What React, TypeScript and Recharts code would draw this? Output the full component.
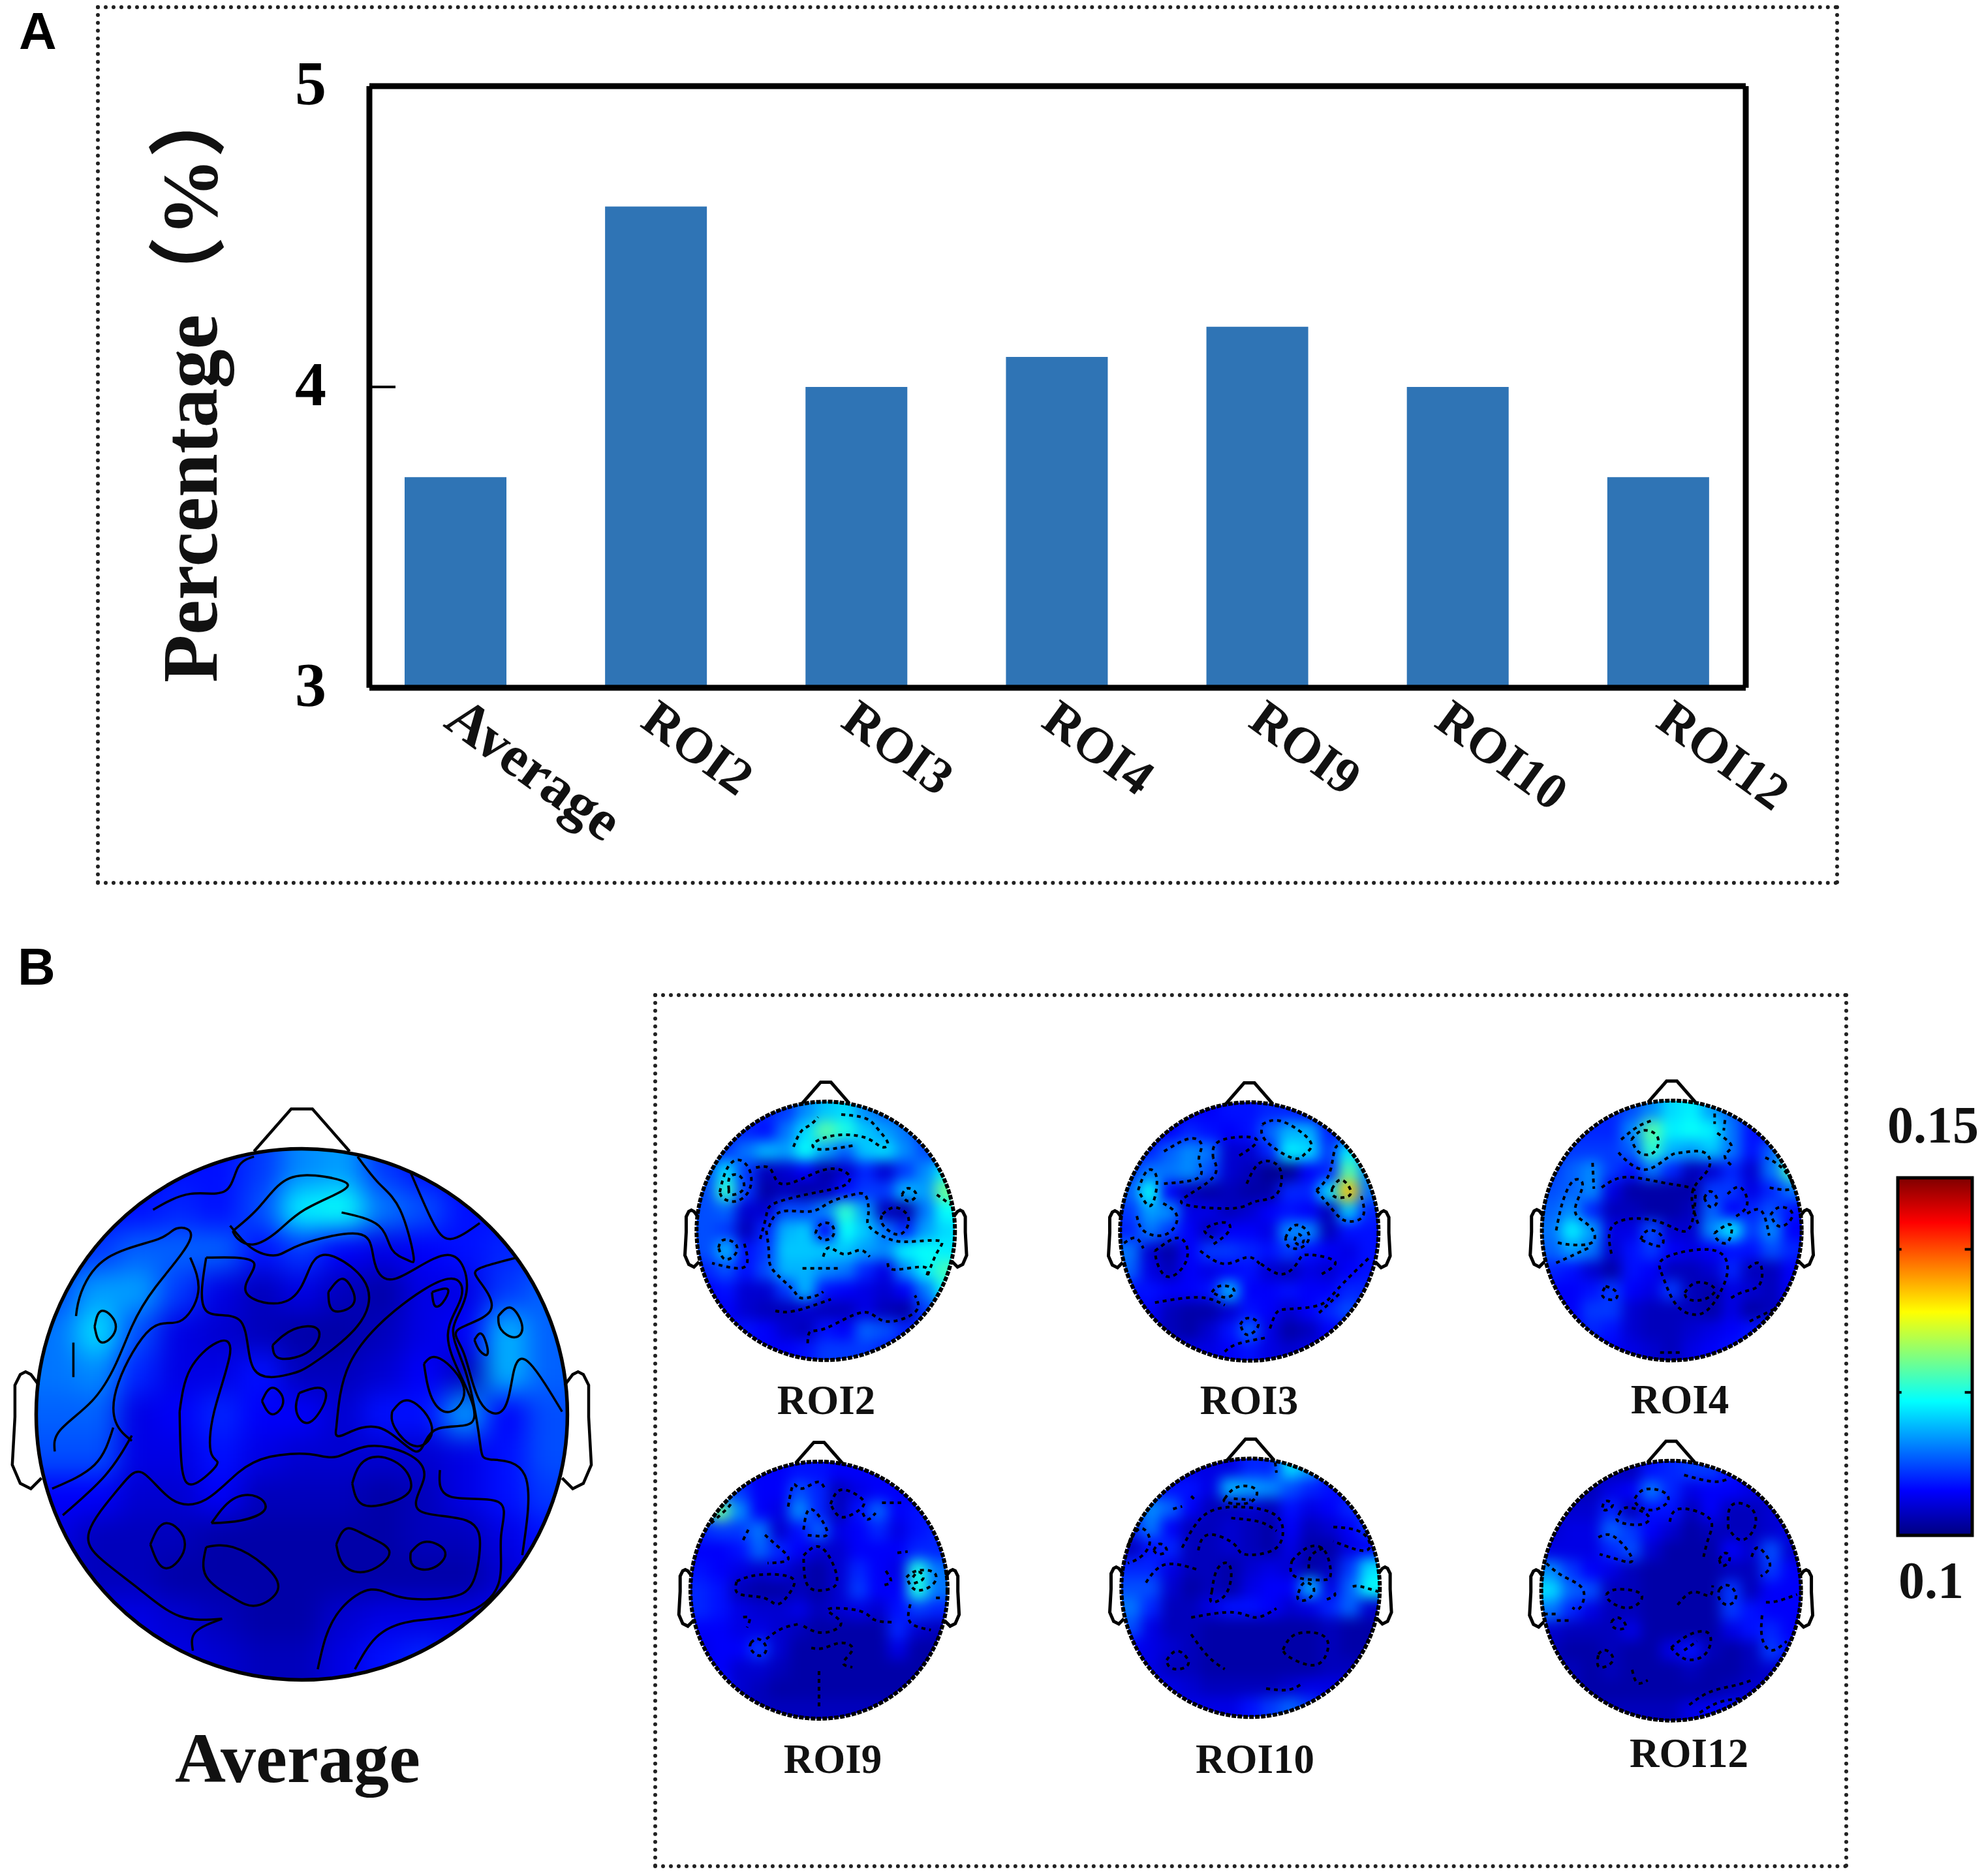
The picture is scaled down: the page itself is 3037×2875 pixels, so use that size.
import {
  Area,
  AreaChart,
  Bar,
  BarChart,
  ComposedChart,
  Label,
  Line,
  ReferenceArea,
  ReferenceDot,
  ReferenceLine,
  Scatter,
  ScatterChart,
  XAxis,
  YAxis,
} from 'recharts';

const categories = ['Average', 'ROI2', 'ROI3', 'ROI4', 'ROI9', 'ROI10', 'ROI12'];
const percentages = [3.7, 4.6, 4.0, 4.1, 4.2, 4.0, 3.7];
const percentTicks = [3, 4, 5];

const colorbarRange = [0.1, 0.15];
const colorbarTicks = [0.12, 0.14];
const jetStops: Array<[number, number, number, number]> = [
  [0, 0, 0, 127],
  [0.125, 0, 0, 255],
  [0.375, 0, 255, 255],
  [0.625, 255, 255, 0],
  [0.875, 255, 0, 0],
  [1, 127, 0, 0],
];

// Head outline, in scalp units (radius = 100, nose up)
const noseLine = [[-18, 99], [-4, 115], [4, 115], [18, 99]];
const leftEar = [[-99, 11], [-102, 15], [-104, 16], [-106, 15], [-108, 11], [-108, -1], [-109, -19], [-106, -26], [-102, -28], [-98, -24]];
const rightEar = [[99, 11], [102, 15], [104, 16], [106, 15], [108, 11], [108, -1], [109, -19], [106, -26], [102, -28], [98, -24]];

// Power above 0.1, in thousandths, on a 13 x 13 scalp grid (rows front to back)
const averageHeat = [
  [7, 7, 7, 7, 7, 9, 13, 14, 9, 7, 6, 6, 6],
  [7, 7, 7, 8, 7, 10, 18, 19, 12, 10, 7, 7, 7],
  [8, 9, 11, 11, 11, 7, 9, 6, 5, 6, 7, 8, 9],
  [10, 14, 14, 9, 5, 3, 5, 3, 2, 5, 5, 9, 11],
  [12, 17, 10, 5, 4, 3, 2, 2, 3, 5, 6, 15, 11],
  [12, 13, 8, 5, 5, 7, 3, 3, 4, 6, 3, 15, 11],
  [11, 11, 5, 6, 8, 6, 6, 4, 7, 7, 14, 6, 10],
  [10, 10, 5, 5, 7, 5, 4, 4, 4, 4, 5, 7, 10],
  [6, 6, 4, 4, 6, 3, 3, 3, 2, 3, 5, 7, 9],
  [5, 3, 3, 3, 2, 2, 2, 2, 2, 3, 3, 5, 7],
  [4, 3, 3, 2, 2, 2, 2, 2, 2, 2, 2, 4, 6],
  [5, 5, 5, 4, 3, 2, 2, 4, 5, 5, 5, 6, 6],
  [5, 5, 5, 5, 4, 3, 3, 5, 7, 8, 7, 6, 6],
];
const roi2Heat = [
  [8, 8, 8, 8, 9, 13, 16, 17, 13, 11, 10, 8, 8],
  [8, 8, 8, 7, 12, 17, 23, 20, 16, 14, 12, 9, 8],
  [8, 9, 12, 15, 14, 19, 14, 11, 16, 17, 13, 10, 9],
  [10, 17, 9, 3, 4, 6, 2, 4, 8, 4, 9, 13, 18],
  [10, 21, 9, 2, 3, 2, 3, 7, 9, 9, 15, 14, 24],
  [10, 11, 4, 4, 10, 10, 13, 21, 14, 3, 2, 12, 19],
  [10, 9, 3, 8, 15, 16, 6, 19, 16, 12, 8, 14, 17],
  [10, 15, 7, 9, 16, 16, 16, 16, 14, 13, 18, 19, 18],
  [8, 10, 7, 10, 15, 15, 13, 12, 8, 5, 13, 18, 22],
  [6, 7, 4, 4, 9, 15, 7, 6, 5, 4, 6, 12, 19],
  [5, 6, 4, 3, 3, 4, 3, 3, 5, 3, 2, 9, 13],
  [5, 6, 7, 6, 4, 3, 7, 6, 11, 10, 8, 8, 8],
  [5, 5, 6, 6, 6, 7, 9, 9, 9, 8, 7, 6, 6],
];
const roi3Heat = [
  [6, 6, 6, 6, 6, 7, 7, 8, 8, 7, 6, 6, 6],
  [6, 6, 6, 8, 7, 6, 7, 11, 15, 15, 8, 7, 7],
  [7, 8, 11, 13, 12, 4, 4, 8, 18, 17, 9, 18, 14],
  [9, 12, 12, 13, 10, 4, 3, 1, 1, 6, 8, 23, 13],
  [11, 19, 6, 3, 2, 3, 2, 2, 8, 8, 17, 34, 12],
  [9, 14, 13, 5, 5, 3, 4, 6, 7, 6, 3, 16, 8],
  [8, 12, 9, 6, 3, 6, 6, 5, 13, 13, 3, 7, 7],
  [12, 4, 2, 6, 9, 9, 8, 7, 9, 7, 6, 5, 7],
  [11, 5, 3, 6, 5, 6, 7, 4, 3, 5, 4, 6, 7],
  [7, 7, 6, 6, 7, 15, 6, 6, 7, 6, 6, 8, 8],
  [6, 6, 3, 2, 2, 4, 7, 6, 4, 6, 8, 10, 8],
  [6, 5, 3, 2, 4, 7, 11, 5, 2, 3, 6, 7, 7],
  [5, 5, 5, 5, 5, 6, 7, 5, 4, 5, 5, 6, 6],
];
const roi4Heat = [
  [8, 8, 8, 8, 10, 13, 17, 18, 14, 11, 8, 7, 7],
  [7, 8, 8, 8, 13, 23, 18, 19, 18, 12, 7, 6, 8],
  [8, 9, 9, 9, 11, 21, 15, 14, 16, 12, 7, 11, 21],
  [9, 11, 13, 9, 7, 12, 8, 3, 4, 8, 4, 12, 22],
  [10, 11, 13, 5, 2, 2, 2, 2, 9, 9, 5, 8, 12],
  [11, 13, 8, 3, 3, 2, 2, 3, 11, 6, 8, 10, 7],
  [12, 18, 14, 5, 5, 10, 4, 4, 13, 18, 9, 13, 6],
  [11, 14, 12, 4, 7, 9, 6, 5, 6, 7, 7, 10, 8],
  [8, 7, 4, 2, 7, 6, 3, 3, 4, 8, 3, 3, 6],
  [6, 6, 7, 9, 6, 5, 9, 3, 2, 5, 4, 3, 6],
  [5, 6, 9, 9, 4, 3, 3, 3, 2, 5, 2, 3, 5],
  [5, 6, 8, 7, 4, 3, 3, 4, 5, 6, 7, 8, 8],
  [5, 5, 6, 6, 5, 4, 3, 5, 6, 7, 8, 8, 7],
];
const roi9Heat = [
  [6, 6, 6, 6, 6, 7, 7, 6, 6, 6, 6, 6, 6],
  [8, 10, 9, 6, 6, 10, 8, 3, 5, 6, 6, 5, 6],
  [12, 24, 13, 6, 5, 13, 8, 3, 7, 11, 6, 7, 7],
  [8, 9, 9, 12, 4, 7, 11, 5, 6, 8, 5, 7, 8],
  [6, 6, 7, 11, 8, 6, 4, 4, 6, 6, 6, 8, 8],
  [7, 6, 5, 4, 5, 3, 2, 4, 8, 6, 5, 20, 12],
  [8, 7, 3, 2, 2, 3, 2, 4, 9, 6, 6, 20, 12],
  [8, 7, 5, 4, 4, 5, 3, 4, 5, 4, 7, 9, 8],
  [6, 6, 5, 5, 4, 3, 2, 2, 2, 2, 8, 4, 3],
  [5, 6, 6, 9, 4, 2, 2, 2, 2, 2, 5, 2, 2],
  [5, 6, 4, 4, 3, 2, 2, 2, 2, 2, 2, 2, 2],
  [6, 7, 4, 3, 2, 2, 2, 2, 2, 2, 2, 2, 2],
  [6, 6, 4, 3, 3, 3, 3, 3, 3, 3, 3, 3, 3],
];
const roi10Heat = [
  [6, 6, 5, 5, 5, 5, 8, 8, 17, 14, 8, 6, 6],
  [7, 7, 7, 7, 5, 15, 14, 13, 10, 8, 7, 6, 6],
  [9, 13, 11, 6, 3, 3, 4, 3, 7, 5, 6, 8, 8],
  [8, 12, 6, 3, 3, 4, 3, 2, 6, 3, 4, 6, 9],
  [3, 7, 8, 3, 3, 4, 3, 2, 5, 2, 2, 5, 6],
  [8, 8, 5, 3, 3, 2, 4, 5, 4, 2, 3, 9, 17],
  [10, 10, 4, 2, 3, 2, 5, 6, 6, 15, 5, 11, 19],
  [12, 8, 3, 3, 5, 7, 7, 6, 4, 5, 8, 11, 4],
  [10, 5, 3, 3, 2, 2, 2, 2, 2, 2, 3, 2, 2],
  [6, 5, 4, 3, 2, 2, 2, 2, 2, 2, 3, 2, 2],
  [5, 5, 3, 3, 2, 2, 2, 2, 2, 2, 3, 3, 3],
  [5, 5, 5, 4, 3, 3, 3, 3, 4, 5, 5, 5, 5],
  [5, 5, 5, 5, 5, 5, 7, 9, 11, 9, 7, 5, 5],
];
const roi12Heat = [
  [3, 3, 3, 3, 3, 7, 8, 9, 9, 7, 5, 5, 5],
  [3, 3, 3, 5, 6, 12, 8, 5, 6, 6, 5, 4, 4],
  [4, 4, 4, 8, 3, 7, 7, 3, 6, 3, 3, 4, 5],
  [4, 5, 5, 11, 9, 6, 4, 2, 3, 3, 3, 4, 5],
  [5, 5, 5, 8, 10, 4, 2, 2, 2, 6, 4, 10, 4],
  [13, 9, 6, 5, 3, 2, 2, 2, 2, 3, 3, 9, 6],
  [17, 11, 10, 3, 3, 2, 2, 2, 2, 9, 3, 6, 6],
  [12, 8, 5, 3, 3, 2, 2, 2, 2, 9, 7, 6, 6],
  [4, 3, 3, 3, 5, 2, 2, 2, 2, 5, 7, 8, 6],
  [3, 2, 2, 3, 2, 2, 5, 7, 3, 2, 3, 9, 7],
  [3, 3, 2, 3, 2, 2, 2, 3, 2, 2, 3, 4, 3],
  [3, 3, 2, 2, 2, 2, 2, 2, 2, 3, 4, 4, 4],
  [3, 3, 3, 3, 3, 3, 3, 5, 6, 7, 6, 5, 5],
];

// Iso-lines, as [x, y] scalp positions
const averageContours = [
  [[-30, -77], [-46, -76], [-61, -66], [-75, -55], [-80, -44], [-69, -28], [-60, -22], [-49, -32], [-36, -32], [-24, -22], [-12, -16], [3, -15], [13, -16], [25, -12], [40, -15], [46, -24], [44, -36], [62, -40], [67, -51], [64, -64], [55, -69], [38, -69], [26, -66], [15, -73], [9, -84], [6, -96]],
  [[-30, -77], [-40, -82], [-41, -89]],
  [[-57, -49], [-51, -41], [-44, -49], [-51, -58], [-57, -49]],
  [[-36, -50], [-36, -61], [-26, -69], [-17, -72], [-9, -66], [-14, -57], [-26, -50], [-36, -50]],
  [[19, -26], [22, -19], [29, -16], [38, -20], [41, -28], [34, -33], [23, -34], [19, -26]],
  [[13, -49], [17, -43], [25, -46], [33, -52], [25, -59], [16, -57], [13, -49]],
  [[41, -52], [47, -48], [54, -52], [49, -58], [42, -57], [41, -52]],
  [[-34, -41], [-26, -32], [-17, -31], [-14, -36], [-23, -40], [-34, -41]],
  [[-26, 69], [-17, 77], [-9, 86], [1, 90], [15, 88], [15, 84], [1, 77], [-9, 69], [-18, 64], [-24, 66], [-26, 69]],
  [[-56, 77], [-42, 83], [-29, 84], [-24, 93], [-18, 97]],
  [[21, 97], [29, 87], [37, 77], [42, 60], [40, 58], [34, 62], [29, 71], [15, 76]],
  [[-27, 71], [-18, 62], [-9, 60], [0, 64], [21, 68], [27, 59], [35, 51], [55, 60], [62, 46], [57, 32], [62, 15], [67, -10], [71, -17], [84, -23], [83, -53]],
  [[-42, 59], [-39, 46], [-46, 35], [-57, 32], [-69, 12], [-70, -3], [-64, -10]],
  [[-36, 59], [-18, 57], [-21, 46], [-5, 43], [4, 57], [13, 59], [23, 51], [25, 41], [18, 30], [4, 19], [-5, 15], [-18, 17], [-23, 35], [-36, 39], [-36, 59]],
  [[-46, 1], [-42, 17], [-32, 27], [-27, 23], [-33, 1], [-34, -15], [-32, -19], [-40, -26], [-45, -21], [-46, 1]],
  [[13, -5], [18, 19], [35, 39], [55, 51], [60, 44], [55, 30], [61, 12], [64, -3], [50, -6], [43, -14], [29, -5], [15, -8], [13, -5]],
  [[46, 19], [52, 21], [61, 10], [56, 1], [49, 6], [46, 19]],
  [[34, 1], [41, 5], [49, -5], [43, -12], [35, -5], [34, 1]],
  [[81, 59], [67, 55], [67, 50], [71, 39], [59, 32], [61, 23], [67, 5], [76, 2], [80, 17], [86, 19], [98, 1]],
  [[-85, 37], [-83, 46], [-73, 59], [-54, 66], [-47, 70], [-42, 66], [-55, 48], [-64, 33], [-70, 19], [-79, 5], [-91, -6], [-93, -14]],
  [[-86, 27], [-86, 14]],
  [[-78, 33], [-75, 39], [-70, 33], [-75, 27], [-78, 33]],
  [[-94, -28], [-78, -19], [-71, -5]],
  [[-90, -38], [-74, -23], [-64, -8]],
  [[20, -96], [28, -84], [41, -78], [61, -75], [74, -64], [75, -46], [74, -33], [56, -31], [52, -21]],
  [[41, 91], [49, 73], [56, 66], [67, 72]],
  [[-11, 26], [-3, 32], [6, 32], [3, 24], [-8, 21], [-11, 26]],
  [[10, 46], [15, 51], [19, 47], [19, 41], [12, 39], [10, 46]],
  [[-1, 8], [6, 10], [9, 6], [3, -3], [-2, 1], [-1, 8]],
  [[74, 37], [79, 40], [83, 33], [80, 29], [75, 32], [74, 37]],
  [[65, 28], [68, 30], [70, 23], [67, 24], [65, 28]],
  [[-15, 5], [-11, 10], [-7, 5], [-11, 0], [-15, 5]],
  [[49, 46], [55, 47], [53, 42], [50, 41], [49, 46]],
];
const roi2Contours = [
  [[-82, 30], [-77, 47], [-68, 55], [-59, 47], [-59, 32], [-69, 23], [-79, 25], [-82, 30]],
  [[-75, 32], [-74, 42], [-66, 42], [-64, 32], [-73, 28], [-75, 32]],
  [[-25, 65], [-19, 77], [-12, 82], [-6, 88]],
  [[12, 90], [31, 87], [41, 78], [48, 68], [43, 65], [31, 72], [8, 74], [-9, 68], [-4, 63], [21, 66]],
  [[-54, 49], [-43, 48], [-36, 37], [-19, 40], [3, 48], [18, 43], [14, 35], [-6, 30], [-38, 22], [-46, 12], [-51, -7]],
  [[-44, 3], [-34, 15], [-12, 15], [3, 22], [21, 28], [31, 27], [33, 13], [34, 3], [51, -7], [71, -8], [89, -8], [86, -17], [78, -37]],
  [[-46, 0], [-44, -17], [-41, -30], [-26, -45], [-19, -52], [-7, -50], [-2, -47]],
  [[-8, -2], [-4, 5], [4, 5], [6, -3], [-1, -7], [-8, -2]],
  [[-2, -20], [3, -13], [14, -18], [26, -15], [34, -20]],
  [[-18, -29], [10, -29]],
  [[44, 13], [54, 18], [64, 10], [59, -2], [49, 0], [43, 7], [44, 13]],
  [[48, -25], [54, -30], [76, -28], [77, -37]],
  [[-83, -13], [-79, -7], [-70, -10], [-70, -18], [-78, -22], [-83, -13]],
  [[-63, -10], [-63, -28], [-88, -25]],
  [[59, 28], [64, 33], [70, 28], [64, 23], [59, 28]],
  [[-14, -87], [-12, -78], [1, -75], [29, -63], [46, -70], [69, -63], [69, -50]],
  [[-39, -62], [-24, -62], [4, -53]],
  [[86, 28], [97, 20]],
];
const roi3Contours = [
  [[-86, 32], [-79, 47], [-72, 43], [-73, 27], [-78, 20], [-86, 32]],
  [[-87, 12], [-81, 0], [-64, -2], [-56, 12], [-69, 23]],
  [[-66, 62], [-46, 72], [-37, 67], [-39, 57], [-37, 47], [-43, 40], [-66, 37]],
  [[-28, 57], [-23, 70], [1, 73], [4, 67], [-9, 58]],
  [[-2, 37], [8, 53], [21, 52], [25, 40], [19, 27], [4, 23], [-12, 18], [-46, 20], [-49, 27], [-28, 42], [-28, 57]],
  [[10, 83], [26, 85], [47, 70], [43, 60], [33, 57], [13, 70], [10, 82]],
  [[64, 33], [71, 40], [78, 33], [76, 27], [66, 27], [64, 33]],
  [[52, 32], [62, 45], [66, 63], [71, 67]],
  [[52, 32], [66, 15], [76, 8], [88, 12], [86, 30]],
  [[28, -5], [36, 5], [46, -2], [41, -12], [31, -12], [28, -5]],
  [[35, -7], [38, -2], [42, -7], [38, -10], [35, -7]],
  [[-73, -15], [-56, -5], [-48, -13], [-51, -27], [-63, -35], [-71, -25], [-73, -15]],
  [[-28, -5], [-34, 2], [-19, 7], [-16, 0], [-28, -10]],
  [[-38, -15], [-19, -25], [-2, -20], [8, -25]],
  [[9, -25], [26, -33], [38, -23], [46, -18], [66, -23], [56, -33]],
  [[-29, -47], [-22, -42], [-12, -45], [-17, -51], [-29, -47]],
  [[-7, -72], [-1, -67], [7, -72], [-1, -80], [-7, -72]],
  [[16, -75], [21, -63], [31, -60], [54, -57], [68, -45], [93, -20]],
  [[-73, -55], [-39, -51], [-19, -57]],
  [[-19, -93], [-9, -87], [14, -82]],
  [[54, -63], [71, -47]],
  [[-97, -9], [-88, -5], [-82, -13]],
];
const roi4Contours = [
  [[-31, 70], [-22, 77], [-11, 72], [-14, 60], [-25, 60], [-31, 70]],
  [[-39, 70], [-26, 80], [-14, 85]],
  [[-41, 60], [-34, 53], [-19, 47], [-2, 57], [8, 60], [25, 60], [28, 47], [16, 30], [21, 3]],
  [[33, 90], [33, 82]],
  [[41, 85], [40, 77]],
  [[35, 75], [46, 65], [41, 58], [46, 50]],
  [[-89, 0], [-84, 22], [-76, 38], [-69, 37], [-71, 27], [-74, 13], [-63, 3], [-61, -9], [-78, -11], [-89, -9]],
  [[-61, 52], [-60, 32]],
  [[-54, 33], [-36, 41], [-8, 37], [14, 33], [18, 23], [12, 0], [-11, 7], [-44, 5], [-46, -20]],
  [[-24, -7], [-18, 0], [-8, -4], [-9, -12], [-24, -7]],
  [[25, 25], [30, 30], [35, 23], [30, 18], [25, 25]],
  [[33, -2], [40, 3], [46, 3], [43, -9], [35, -7], [33, -2]],
  [[43, 28], [53, 33], [58, 20], [48, 10]],
  [[58, 13], [69, 15], [75, -4]],
  [[76, 12], [84, 18], [93, 12], [84, 3], [76, 12]],
  [[-9, -30], [-3, -20], [31, -15], [43, -30], [36, -50], [23, -64], [6, -60], [-4, -43], [-9, -30]],
  [[10, -48], [20, -40], [33, -45], [25, -53], [13, -53], [10, -48]],
  [[59, -29], [68, -26], [68, -41], [56, -47], [44, -53]],
  [[-51, -43], [-43, -47], [-44, -53], [-53, -51], [-51, -43]],
  [[72, 56], [85, 48], [93, 33], [75, 33]],
  [[-89, -25], [-78, -20], [-63, -13]],
  [[60, -70], [80, -60]],
  [[-9, -94], [9, -94]],
];
const roi9Contours = [
  [[-24, 65], [-20, 82], [-14, 79], [-2, 84], [4, 80]],
  [[-12, 47], [-6, 63], [6, 47], [1, 42], [-11, 43]],
  [[9, 67], [17, 78], [31, 73], [34, 65], [21, 57], [13, 60], [9, 67]],
  [[34, 60], [38, 55], [44, 60]],
  [[49, 68], [64, 68]],
  [[-59, 39], [-55, 47]],
  [[-42, 43], [-32, 34], [-24, 24], [-40, 21]],
  [[-64, 7], [-46, 12], [-22, 10], [-22, -1], [-32, -11], [-43, -6], [-62, -3], [-64, 7]],
  [[-12, 27], [-2, 34], [8, 26], [14, 7], [4, 0], [-9, 4], [-12, 27]],
  [[68, 10], [76, 15], [89, 14], [89, 5], [76, 0], [68, 10]],
  [[73, 10], [78, 14], [81, 9], [73, 5]],
  [[61, 29], [69, 30]],
  [[91, -6], [97, -6]],
  [[52, 15], [56, 7], [51, 4]],
  [[-12, -28], [4, -33], [17, -25], [7, -15], [31, -16], [43, -23], [59, -25]],
  [[-41, -38], [-29, -30], [-14, -26]],
  [[-53, -41], [-47, -38], [-41, -45], [-46, -51], [-53, -46], [-53, -41]],
  [[-6, -45], [4, -45], [17, -41], [26, -46], [19, -56], [26, -60]],
  [[0, -63], [0, -91]],
  [[-59, -21], [-54, -22], [-56, -29]],
  [[71, -11], [71, -25], [87, -31]],
  [[-84, 52], [-71, 64], [-68, 69]],
];
const roi10Contours = [
  [[-53, 31], [-41, 51], [-21, 62], [14, 59], [25, 44], [17, 29], [-5, 26], [-13, 34], [-33, 41], [-41, 26]],
  [[-15, 54], [7, 51], [20, 44]],
  [[-20, 69], [-10, 78], [4, 76], [-1, 66], [-18, 66], [-20, 69]],
  [[-13, 69], [0, 68]],
  [[-60, 61], [-53, 63]],
  [[-46, 71], [-43, 68]],
  [[-75, 29], [-70, 34], [-65, 29], [-71, 26], [-75, 29]],
  [[-95, 33], [-85, 46], [-78, 36], [-85, 24], [-95, 19]],
  [[-30, -3], [-26, 14], [-18, 19], [-15, 9], [-20, -6], [-30, -11], [-30, -3]],
  [[32, 21], [44, 31], [57, 29], [62, 11], [54, 6], [34, 9], [32, 21]],
  [[45, 15], [47, 25], [57, 31]],
  [[37, -4], [42, 4], [49, -1], [44, -9], [37, -9], [37, -4]],
  [[64, 47], [87, 42], [90, 29], [64, 36]],
  [[79, 1], [85, 1], [99, -3]],
  [[59, -9], [65, -6], [64, -3]],
  [[25, -48], [35, -36], [54, -36], [60, -46], [54, -58], [42, -59], [29, -53], [25, -48]],
  [[-65, -56], [-56, -49], [-48, -58], [-56, -63], [-63, -61], [-65, -56]],
  [[-46, -23], [-13, -19], [4, -23], [20, -16]],
  [[-81, 4], [-66, 18], [-41, 14]],
  [[12, -78], [29, -79], [40, -74]],
  [[19, 97], [20, 89]],
  [[-46, -36], [-33, -53], [-20, -63]],
];
const roi12Contours = [
  [[-28, 71], [-20, 78], [-6, 76], [-3, 68], [-15, 62], [-26, 66], [-28, 71]],
  [[-53, 64], [-50, 69], [-45, 66], [-50, 62], [-53, 64]],
  [[-40, 59], [-33, 64], [-18, 58], [-23, 51], [-40, 53], [-40, 59]],
  [[-1, 53], [7, 63], [29, 56], [29, 41], [25, 26]],
  [[44, 48], [47, 66], [62, 63], [64, 48], [54, 39], [44, 48]],
  [[-56, 41], [-43, 41], [-30, 24], [-41, 24], [-55, 28]],
  [[62, 26], [67, 33], [75, 24], [75, 16], [69, 11]],
  [[37, 24], [42, 29], [45, 24], [40, 19], [37, 24]],
  [[-96, 21], [-83, 11], [-68, 1], [-70, -13], [-76, -13]],
  [[-98, -18], [-86, -18]],
  [[-88, -23], [-78, -23]],
  [[-50, -3], [-41, 1], [-23, -3], [-31, -13], [-46, -9], [-50, -3]],
  [[5, -11], [17, -1], [29, -4], [32, 4]],
  [[37, 1], [44, 4], [50, -4], [44, -11], [37, -6], [37, 1]],
  [[-46, -24], [-40, -21], [-35, -28], [-43, -29], [-46, -24]],
  [[0, -44], [14, -34], [29, -33], [27, -48], [12, -53], [0, -44]],
  [[10, -46], [20, -39]],
  [[-56, -49], [-50, -46], [-45, -54], [-55, -59], [-56, -49]],
  [[-30, -61], [-26, -71], [-18, -69]],
  [[14, -88], [30, -78], [49, -73], [62, -69]],
  [[22, -94], [37, -86], [54, -83]],
  [[70, -19], [70, -36], [77, -46], [89, -39]],
  [[73, -9], [82, -8], [97, -3]],
  [[10, 89], [32, 84], [44, 86]],
];

const serif = '"Liberation Serif", "Noto Sans CJK SC", serif';
const scalpDomain: [number, number] = [-135, 135];
const gridSize = 13;

function jetColor(value: number) {
  const t = Math.min(1, Math.max(0, value / 50));
  const upper = jetStops.findIndex((s) => t <= s[0]);
  const b = jetStops[Math.max(upper, 1)];
  const a = jetStops[Math.max(upper, 1) - 1];
  const k = (t - a[0]) / (b[0] - a[0]);
  const mix = (i: number) => Math.round(a[i] + (b[i] - a[i]) * k);
  return `rgb(${mix(1)},${mix(2)},${mix(3)})`;
}

// Grid edge values are carried past the rim so the blur does not fade at the outline
function heatCells(rows: number[][]) {
  const cells: Array<{ x: number; y: number; v: number }> = [];
  for (let r = -2; r < gridSize + 2; r++) {
    for (let c = -2; c < gridSize + 2; c++) {
      const row = rows[Math.min(gridSize - 1, Math.max(0, r))];
      cells.push({
        x: -100 + ((c + 0.5) * 200) / gridSize,
        y: 100 - ((r + 0.5) * 200) / gridSize,
        v: row[Math.min(gridSize - 1, Math.max(0, c))],
      });
    }
  }
  return cells;
}

const toPoints = (line: number[][]) => line.map(([x, y]) => ({ x, y }));

interface HeadProps {
  cx: number;
  cy: number;
  r: number;
  heat: number[][];
  contours: number[][][];
  lineWidth: number;
  dash?: string;
}

function Head({ cx, cy, r, heat, contours, lineWidth, dash }: HeadProps) {
  const size = 2.7 * r;
  const cell = (2 * r) / gridSize + 1;
  const box = { position: 'absolute' as const, left: cx - size / 2, top: cy - size / 2, width: size, height: size };
  const HeatCell = (props: any) => (
    <rect x={props.cx - cell / 2} y={props.cy - cell / 2} width={cell} height={cell} fill={jetColor(props.payload.v)} />
  );
  return (
    <>
      <div style={{ ...box, clipPath: `circle(${r}px at 50% 50%)` }}>
        <div style={{ filter: `blur(${r * 0.05}px)` }}>
          <ScatterChart width={size} height={size} margin={{ top: 0, right: 0, bottom: 0, left: 0 }}>
            <XAxis type="number" dataKey="x" domain={scalpDomain} hide />
            <YAxis type="number" dataKey="y" domain={scalpDomain} hide />
            <Scatter data={heatCells(heat)} shape={HeatCell} isAnimationActive={false} />
          </ScatterChart>
        </div>
      </div>
      <div style={box}>
        <ComposedChart width={size} height={size} margin={{ top: 0, right: 0, bottom: 0, left: 0 }}>
          <XAxis type="number" dataKey="x" domain={scalpDomain} hide />
          <YAxis type="number" dataKey="y" domain={scalpDomain} hide />
          {contours.map((line, i) => (
            <Line
              key={i}
              data={toPoints(line)}
              dataKey="y"
              type="natural"
              dot={false}
              activeDot={false}
              stroke="#000"
              strokeWidth={lineWidth}
              strokeDasharray={dash}
              isAnimationActive={false}
            />
          ))}
          {[noseLine, leftEar, rightEar].map((line, i) => (
            <Line
              key={`outline-${i}`}
              data={toPoints(line)}
              dataKey="y"
              type="linear"
              dot={false}
              activeDot={false}
              stroke="#000"
              strokeWidth={lineWidth + 1}
              isAnimationActive={false}
            />
          ))}
          <ReferenceDot x={0} y={0} r={r} fill="none" stroke="#000" strokeWidth={lineWidth + 2} strokeDasharray={dash ? '7 2' : undefined} />
        </ComposedChart>
      </div>
    </>
  );
}

function PercentTick({ x, y, payload }: any) {
  return (
    <g>
      <text x={500} y={y} dy={28} textAnchor="end" fontFamily={serif} fontWeight="bold" fontSize={96} fill="#000">
        {payload.value}
      </text>
      {payload.value === 4 && <line x1={x + 4} x2={606} y1={y} y2={y} stroke="#000" strokeWidth={4} />}
    </g>
  );
}

function CategoryTick({ x, y, payload }: any) {
  const name = payload.value;
  const nudge = name === 'ROI10' ? -20 : name === 'ROI12' ? 12 : name === 'ROI9' ? 2 : name === 'Average' ? -2 : -8;
  const px = x - 18 + nudge;
  const py = y + 50;
  return (
    <text
      x={px}
      y={py}
      transform={`rotate(36 ${px} ${py})`}
      fontFamily={serif}
      fontWeight="bold"
      fontSize={name === 'Average' ? 88 : 78}
      fill="#111"
    >
      {name}
    </text>
  );
}

function PercentLabel({ viewBox }: any) {
  const x = viewBox.x + 332;
  const y = 584;
  return (
    <text x={x} y={y} transform={`rotate(-90 ${x} ${y})`} textAnchor="middle" fontFamily={serif} fontWeight="bold" fontSize={120} fill="#111">
      Percentage（%）
    </text>
  );
}

function Caption({ text, x, base, size }: { text: string; x: number; base: number; size: number }) {
  return (
    <div
      style={{
        position: 'absolute',
        left: x - 300,
        width: 600,
        top: base - size,
        height: size * 1.2,
        lineHeight: `${size * 1.2}px`,
        textAlign: 'center',
        fontFamily: serif,
        fontWeight: 'bold',
        fontSize: size,
        color: '#111',
        whiteSpace: 'nowrap',
      }}
    >
      {text}
    </div>
  );
}

const panelLetter = { position: 'absolute' as const, fontFamily: '"Liberation Sans", sans-serif', fontWeight: 'bold' as const, fontSize: 80, color: '#000', lineHeight: '92px' };
const dottedBox = { position: 'absolute' as const, border: '6px dotted #222', boxSizing: 'border-box' as const };

export default function App() {
  const barData = categories.map((name, i) => ({ name, value: percentages[i] }));
  const colorbarData = [
    { x: 0, range: colorbarRange },
    { x: 1, range: colorbarRange },
  ];

  return (
    <div style={{ position: 'absolute', left: 0, top: 0, width: 3037, height: 2875, background: '#fff', overflow: 'hidden' }}>
      <div style={{ ...panelLetter, left: 29, top: 2 }}>A</div>
      <div style={{ ...panelLetter, left: 27, top: 1436 }}>B</div>
      <div style={{ ...dottedBox, left: 147, top: 8, width: 2671, height: 1348 }} />
      <div style={{ ...dottedBox, left: 1001, top: 1522, width: 1831, height: 1341 }} />

      <div style={{ position: 'absolute', left: 0, top: 0 }}>
        <BarChart width={2800} height={1340} data={barData} margin={{ top: 131, right: 124, bottom: 0, left: 0 }}>
          <XAxis
            dataKey="name"
            height={286}
            interval={0}
            padding={{ left: -22, right: -19 }}
            tick={<CategoryTick />}
            tickLine={false}
            axisLine={{ stroke: '#000', strokeWidth: 9 }}
          />
          <XAxis xAxisId="top" orientation="top" dataKey="name" height={1} tick={false} tickLine={false} axisLine={{ stroke: '#000', strokeWidth: 9 }} />
          <YAxis
            domain={[3, 5]}
            ticks={percentTicks}
            width={566}
            tick={<PercentTick />}
            tickLine={false}
            axisLine={{ stroke: '#000', strokeWidth: 9 }}
          >
            <Label content={<PercentLabel />} />
          </YAxis>
          <YAxis yAxisId="right" orientation="right" domain={[3, 5]} width={1} tick={false} tickLine={false} axisLine={{ stroke: '#000', strokeWidth: 9 }} />
          <Bar dataKey="value" fill="#2F74B5" barSize={156} isAnimationActive={false} />
        </BarChart>
      </div>

      <Head cx={462} cy={2167} r={407} heat={averageHeat} contours={averageContours} lineWidth={3.5} />
      <Head cx={1265} cy={1886} r={198} heat={roi2Heat} contours={roi2Contours} lineWidth={4} dash="6 6" />
      <Head cx={1914} cy={1887} r={198} heat={roi3Heat} contours={roi3Contours} lineWidth={4} dash="6 6" />
      <Head cx={2562} cy={1886} r={199} heat={roi4Heat} contours={roi4Contours} lineWidth={4} dash="6 6" />
      <Head cx={1255} cy={2437} r={197} heat={roi9Heat} contours={roi9Contours} lineWidth={4} dash="6 6" />
      <Head cx={1916} cy={2433} r={198} heat={roi10Heat} contours={roi10Contours} lineWidth={4} dash="6 6" />
      <Head cx={2561} cy={2438} r={199} heat={roi12Heat} contours={roi12Contours} lineWidth={4} dash="6 6" />

      <Caption text="Average" x={456} base={2738} size={108} />
      <Caption text="ROI2" x={1266} base={2172} size={63} />
      <Caption text="ROI3" x={1914} base={2172} size={63} />
      <Caption text="ROI4" x={2574} base={2171} size={63} />
      <Caption text="ROI9" x={1276} base={2722} size={63} />
      <Caption text="ROI10" x={1923} base={2722} size={63} />
      <Caption text="ROI12" x={2588} base={2713} size={63} />

      <Caption text="0.15" x={2962} base={1756} size={80} />
      <Caption text="0.1" x={2959} base={2454} size={80} />
      <div style={{ position: 'absolute', left: 2903, top: 1800 }}>
        <AreaChart width={124} height={558} data={colorbarData} margin={{ top: 5, right: 5, bottom: 5, left: 5 }}>
          <defs>
            <linearGradient id="jetBar" x1="0" y1="1" x2="0" y2="0">
              {jetStops.map((s) => (
                <stop key={s[0]} offset={s[0]} stopColor={`rgb(${s[1]},${s[2]},${s[3]})`} />
              ))}
            </linearGradient>
          </defs>
          <XAxis type="number" dataKey="x" domain={[0, 1]} hide />
          <YAxis type="number" domain={colorbarRange} hide />
          <Area dataKey="range" type="linear" fill="url(#jetBar)" fillOpacity={1} stroke="none" isAnimationActive={false} />
          <ReferenceArea x1={0} x2={1} y1={colorbarRange[0]} y2={colorbarRange[1]} fill="none" stroke="#000" strokeWidth={5} />
          {colorbarTicks.map((t) => (
            <ReferenceLine key={`l${t}`} segment={[{ x: 0, y: t }, { x: 0.05, y: t }]} stroke="#000" strokeWidth={4} />
          ))}
          {colorbarTicks.map((t) => (
            <ReferenceLine key={`r${t}`} segment={[{ x: 0.9, y: t }, { x: 1, y: t }]} stroke="#000" strokeWidth={4} />
          ))}
        </AreaChart>
      </div>
    </div>
  );
}
